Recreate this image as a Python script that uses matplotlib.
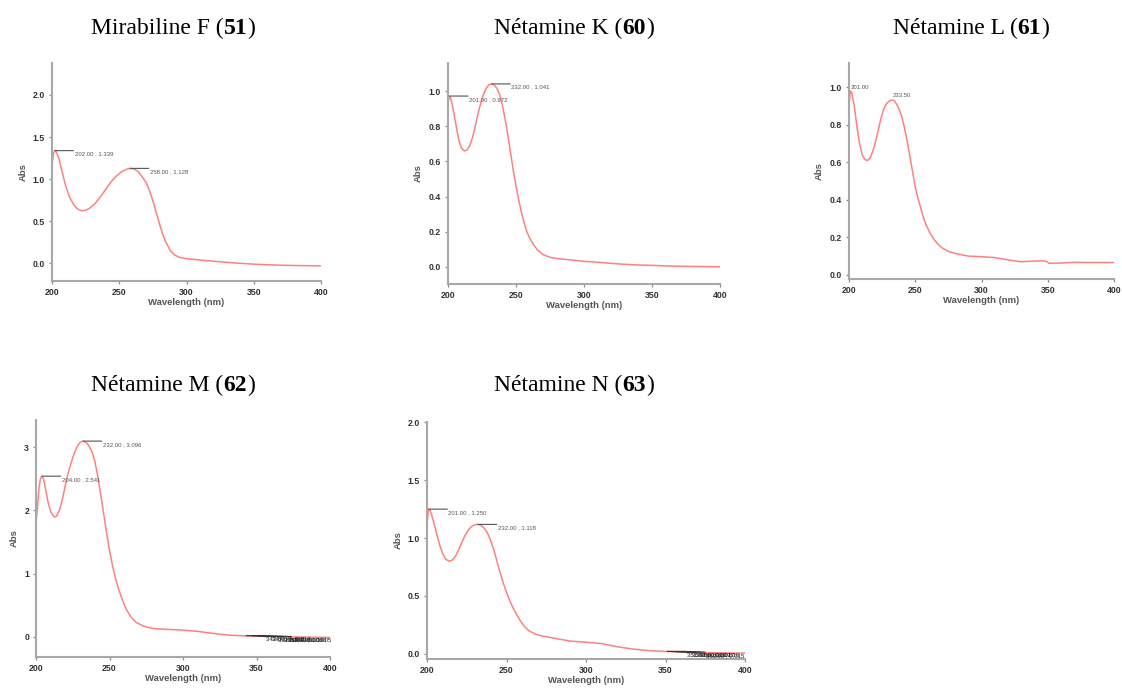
import matplotlib
matplotlib.use("Agg")
import matplotlib.pyplot as plt
from matplotlib.offsetbox import TextArea, HPacker, AnnotationBbox

# ---------------- data ----------------
titles_name = ["Mirabiline F", "Nétamine K", "Nétamine L", "Nétamine M", "Nétamine N"]
titles_num = ["51", "60", "61", "62", "63"]

wl_51 = [200, 201, 202, 203, 205, 207, 210, 213, 216, 219, 222, 225, 228, 232, 236, 240, 244, 248,
         252, 255, 258, 261, 264, 267, 270, 273, 276, 279, 282, 285, 288, 291, 295, 300, 310, 320,
         330, 340, 350, 360, 370, 380, 390, 400]
abs_51 = [1.17, 1.30, 1.339, 1.33, 1.25, 1.12, 0.93, 0.79, 0.70, 0.645, 0.625, 0.63, 0.655, 0.71,
          0.79, 0.88, 0.97, 1.04, 1.09, 1.115, 1.128, 1.12, 1.09, 1.03, 0.96, 0.84, 0.69, 0.52,
          0.36, 0.24, 0.15, 0.10, 0.07, 0.055, 0.04, 0.025, 0.012, 0.0, -0.01, -0.017, -0.022,
          -0.026, -0.028, -0.03]

wl_60 = [200, 201, 202, 204, 206, 208, 210, 212, 214, 216, 218, 220, 222, 224, 226, 228, 230, 232,
         234, 236, 238, 240, 242, 244, 246, 248, 250, 252, 254, 256, 258, 260, 263, 266, 270, 275,
         280, 290, 300, 310, 320, 330, 340, 350, 360, 370, 380, 390, 400]
abs_60 = [0.93, 0.972, 0.96, 0.89, 0.80, 0.72, 0.675, 0.66, 0.665, 0.69, 0.735, 0.80, 0.87, 0.93,
          0.98, 1.015, 1.035, 1.041, 1.035, 1.015, 0.98, 0.92, 0.84, 0.75, 0.65, 0.55, 0.46, 0.38,
          0.31, 0.25, 0.20, 0.165, 0.125, 0.095, 0.07, 0.055, 0.048, 0.04, 0.032, 0.027, 0.02, 0.015,
          0.011, 0.009, 0.006, 0.004, 0.003, 0.002, 0.001]

wl_61 = [200, 201, 202, 204, 206, 208, 210, 212, 214, 216, 218, 220, 222, 224, 226, 228, 230, 232,
         234, 236, 238, 240, 242, 244, 246, 248, 250, 252, 254, 256, 258, 261, 264, 267, 270, 275,
         280, 285, 290, 300, 310, 320, 330, 340, 346, 349, 351, 360, 370, 380, 390, 400]
abs_61 = [0.90, 0.98, 0.975, 0.90, 0.79, 0.70, 0.64, 0.615, 0.61, 0.625, 0.66, 0.71, 0.77, 0.83,
          0.88, 0.91, 0.925, 0.932, 0.93, 0.91, 0.88, 0.84, 0.78, 0.71, 0.63, 0.55, 0.47, 0.41,
          0.36, 0.31, 0.27, 0.225, 0.19, 0.165, 0.145, 0.125, 0.115, 0.107, 0.10, 0.097, 0.092,
          0.08, 0.07, 0.074, 0.075, 0.072, 0.062, 0.063, 0.067, 0.066, 0.066, 0.066]

wl_62 = [200, 201, 202, 203, 204, 205, 206, 208, 210, 212, 213, 214, 216, 218, 220, 222, 224, 226,
         228, 230, 232, 234, 236, 238, 240, 242, 244, 246, 248, 250, 252, 254, 256, 258, 260, 262,
         265, 268, 272, 276, 280, 290, 300, 310, 320, 330, 340, 350, 360, 370, 380, 390, 400]
abs_62 = [1.80, 2.05, 2.35, 2.50, 2.541, 2.50, 2.40, 2.15, 1.98, 1.905, 1.895, 1.91, 2.00, 2.18,
          2.40, 2.60, 2.76, 2.90, 3.01, 3.075, 3.096, 3.08, 3.02, 2.93, 2.78, 2.54, 2.25, 1.95,
          1.65, 1.37, 1.13, 0.93, 0.77, 0.63, 0.51, 0.41, 0.30, 0.23, 0.18, 0.15, 0.13, 0.116,
          0.105, 0.085, 0.055, 0.028, 0.016, 0.010, 0.005, 0.0, -0.004, -0.007, -0.01]

wl_63 = [200, 201, 202, 204, 206, 208, 210, 212, 214, 216, 218, 220, 222, 224, 226, 228, 230, 232,
         234, 236, 238, 240, 242, 244, 246, 248, 250, 252, 254, 256, 258, 261, 264, 268, 272, 276,
         280, 290, 300, 310, 320, 330, 340, 350, 360, 370, 380, 390, 400]
abs_63 = [1.13, 1.25, 1.24, 1.15, 1.04, 0.94, 0.86, 0.815, 0.80, 0.81, 0.845, 0.90, 0.965, 1.025,
          1.07, 1.10, 1.115, 1.118, 1.11, 1.085, 1.045, 0.98, 0.90, 0.80, 0.70, 0.61, 0.53, 0.46,
          0.40, 0.35, 0.30, 0.24, 0.20, 0.17, 0.155, 0.145, 0.135, 0.11, 0.10, 0.088, 0.06, 0.04,
          0.027, 0.02, 0.016, 0.012, 0.009, 0.007, 0.006]

# labelled peaks (wavelength, absorbance)
peaks_51 = [(202.0, 1.339), (258.0, 1.128)]
peaks_60 = [(201.0, 0.972), (232.0, 1.041)]
peaks_61 = [(201.0, 0.98), (233.5, 0.932)]
peaks_62 = [(204.0, 2.541), (232.0, 3.096)]
peaks_63 = [(201.0, 1.250), (232.0, 1.118)]
# crowded minor peak labels at the tail
tail_62 = [(343.0, 0.018), (347.0, 0.014), (351.0, 0.010), (355.0, 0.008), (358.0, 0.006), (361.0, 0.005)]
tail_63 = [(351.0, 0.021), (354.0, 0.019), (357.0, 0.017), (360.0, 0.016), (363.0, 0.015)]

yticks_list = [[0.0, 0.5, 1.0, 1.5, 2.0],
               [0.0, 0.2, 0.4, 0.6, 0.8, 1.0],
               [0.0, 0.2, 0.4, 0.6, 0.8, 1.0],
               [0, 1, 2, 3],
               [0.0, 0.5, 1.0, 1.5, 2.0]]
xticks = [200, 250, 300, 350, 400]

# ---------------- layout ----------------
W, H = 1122, 691
fig = plt.figure(figsize=(W / 100, H / 100), dpi=100)
fig.patch.set_facecolor("white")

# axes boxes in pixels: left, top, right, bottom
boxes = [(52, 63, 321, 281), (448, 63, 720, 284), (849, 63, 1114, 279),
         (36, 420, 330, 657), (427, 422, 745, 659)]
ylims = [(-0.21, 2.38), (-0.097, 1.16), (-0.022, 1.13), (-0.32, 3.43), (-0.045, 2.003)]
title_pos = [(173, 28), (574, 28), (971, 28), (173, 385), (574, 385)]

series = [(wl_51, abs_51), (wl_60, abs_60), (wl_61, abs_61), (wl_62, abs_62), (wl_63, abs_63)]
peaks = [peaks_51, peaks_60, peaks_61, peaks_62, peaks_63]
tails = [None, None, None, tail_62, tail_63]

sans = ["Liberation Sans", "DejaVu Sans"]
serif = ["Liberation Serif", "DejaVu Serif"]
curve_col = "#ff8080"
spine_col = "#a8a8a8"
ann_col = "#555555"
LEAD = 13.5  # leader length in points


def leader_label(ax, x, y, txt, color=ann_col, tcolor=ann_col):
    ax.annotate("", xy=(x, y), xytext=(LEAD, 0), textcoords="offset points",
                arrowprops=dict(arrowstyle="-", color=color, lw=0.8, shrinkA=0, shrinkB=0),
                annotation_clip=False)
    ax.annotate(txt, xy=(x, y), xytext=(LEAD + 0.8, -0.6), textcoords="offset points",
                ha="left", va="top", fontsize=4.3, color=tcolor, family=sans,
                annotation_clip=False)


for i in range(5):
    l, t, r, b = boxes[i]
    ax = fig.add_axes([l / W, 1 - b / H, (r - l) / W, (b - t) / H])
    wl, ab = series[i]
    ax.plot(wl, ab, color=curve_col, lw=1.1, solid_capstyle="round", solid_joinstyle="round")
    ax.set_xlim(200, 400)
    ax.set_ylim(*ylims[i])
    ax.set_xticks(xticks)
    ax.set_yticks(yticks_list[i])
    for s in ["top", "right"]:
        ax.spines[s].set_visible(False)
    for s in ["left", "bottom"]:
        ax.spines[s].set_color(spine_col)
        ax.spines[s].set_linewidth(1.5)
    ax.tick_params(axis="both", length=2.4, width=0.9, color="#8a8a8a", pad=2.5,
                   labelsize=6.3, labelcolor="#333333")
    for lab in ax.get_xticklabels() + ax.get_yticklabels():
        lab.set_fontweight("bold")
        lab.set_family(sans)
    ax.set_xlabel("Wavelength (nm)", fontsize=6.8, fontweight="bold", color="#555555",
                  family=sans, labelpad=1)
    ax.set_ylabel("Abs", fontsize=6.8, fontweight="bold", color="#555555", family=sans,
                  labelpad=4)

    if i == 2:
        (x1, y1), (x2, y2) = peaks[i]
        ax.annotate(f"{x1:.2f}", xy=(x1, y1), xytext=(0.3, 0.8), textcoords="offset points",
                    ha="left", va="bottom", fontsize=4.3, color=ann_col, family=sans)
        ax.annotate(f"{x2:.2f}", xy=(x2, y2), xytext=(-0.8, 1.4), textcoords="offset points",
                    ha="left", va="bottom", fontsize=4.3, color=ann_col, family=sans)
    else:
        for (px, py) in peaks[i]:
            leader_label(ax, px, py, f"{px:.2f} , {py:.3f}")
    if tails[i] is not None:
        for (px, py) in tails[i]:
            leader_label(ax, px, py, f"{px:.2f} , {py:.3f}", color="#333333", tcolor="#222222")

    # title with bold compound number
    parts = [TextArea(titles_name[i] + " (", textprops=dict(family=serif, size=17, color="black")),
             TextArea(titles_num[i], textprops=dict(family=serif, size=17, weight="bold", color="black")),
             TextArea(")", textprops=dict(family=serif, size=17, color="black"))]
    box = HPacker(children=parts, align="baseline", pad=0, sep=0)
    tx, ty = title_pos[i]
    abx = AnnotationBbox(box, (tx, H - ty), xycoords="figure pixels", frameon=False,
                         box_alignment=(0.5, 0.5), annotation_clip=False)
    fig.add_artist(abx)

fig.savefig("out.png", dpi=100, facecolor="white")
